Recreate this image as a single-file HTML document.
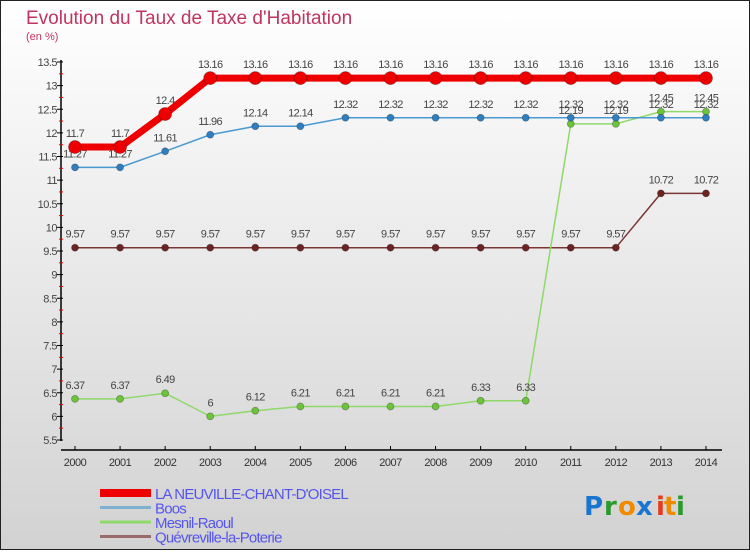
<!DOCTYPE html>
<html><head><meta charset="utf-8">
<style>
html,body{margin:0;padding:0;}
body{width:750px;height:550px;overflow:hidden;font-family:"Liberation Sans",sans-serif;}
</style></head>
<body>
<svg id="chart" width="750" height="550" xmlns="http://www.w3.org/2000/svg">
<defs>
<linearGradient id="bg" x1="0" y1="0" x2="0" y2="1">
<stop offset="0" stop-color="#ffffff"/><stop offset="1" stop-color="#d2d2d2"/>
</linearGradient>
</defs>
<rect x="0.5" y="0.5" width="749" height="549" fill="url(#bg)" stroke="#222" stroke-width="1"/>
<text x="26" y="24" font-size="19" fill="#c0355f">Evolution du Taux de Taxe d'Habitation</text>
<text x="26" y="40" font-size="11" fill="#c0355f">(en %)</text>
<g id="axes"></g>
<g id="series"></g>
<g id="legend"></g>
<g font-size="26" font-weight="bold" font-family="'DejaVu Sans',sans-serif">
<text x="584" y="515" fill="#1a75d1">P</text><text x="604" y="515" fill="#2a9a2a">r</text><text x="618" y="515" fill="#f08a00">o</text><text x="636" y="515" fill="#1a75d1">x</text><text x="656" y="515" fill="#e83a1a">i</text><text x="664" y="515" fill="#f08a00">t</text><text x="676" y="515" fill="#2a9a2a">i</text>
</g>
</svg>
<script>
const years=[2000,2001,2002,2003,2004,2005,2006,2007,2008,2009,2010,2011,2012,2013,2014];
const neuville=[11.7,11.7,12.4,13.16,13.16,13.16,13.16,13.16,13.16,13.16,13.16,13.16,13.16,13.16,13.16];
const boos=[11.27,11.27,11.61,11.96,12.14,12.14,12.32,12.32,12.32,12.32,12.32,12.32,12.32,12.32,12.32];
const mesnil=[6.37,6.37,6.49,6,6.12,6.21,6.21,6.21,6.21,6.33,6.33,12.19,12.19,12.45,12.45];
const quev=[9.57,9.57,9.57,9.57,9.57,9.57,9.57,9.57,9.57,9.57,9.57,9.57,9.57,10.72,10.72];
const yTicks=[5.5,6,6.5,7,7.5,8,8.5,9,9.5,10,10.5,11,11.5,12,12.5,13,13.5];
const seriesNames=["LA NEUVILLE-CHANT-D'OISEL","Boos","Mesnil-Raoul","Quévreville-la-Poterie"];

const NS="http://www.w3.org/2000/svg";
const X=i=>75+i*45.07;
const Y=v=>440-(v-5.5)*47.25;
function mk(tag,attrs,parent,txt){const e=document.createElementNS(NS,tag);for(const k in attrs)e.setAttribute(k,attrs[k]);if(txt!==undefined)e.textContent=txt;parent.appendChild(e);return e;}
const axes=document.getElementById('axes');
let e=mk('line',{x1:61,y1:60,x2:61,y2:441,stroke:'#000','stroke-width':1.5},axes);


e=mk('line',{x1:61,y1:450,x2:722,y2:450,stroke:'#000','stroke-width':1.5},axes);


yTicks.forEach((t,i)=>{
  const y=Y(t);
  mk('line',{x1:57,y1:y,x2:63,y2:y,stroke:'#000'},axes);
  const tx=mk('text',{x:57,y:y+4,'font-size':11,fill:'#444','text-anchor':'end','letter-spacing':'-0.5'},axes,String(t));
  
  
  if(i<yTicks.length-1){const m=Y(t+0.25);mk('line',{x1:59,y1:m,x2:63,y2:m,stroke:'#e00'},axes);}
});
years.forEach((yr,i)=>{
  mk('line',{x1:X(i),y1:446,x2:X(i),y2:450,stroke:'#000'},axes);
  const tx=mk('text',{x:X(i),y:466,'font-size':11,fill:'#333','text-anchor':'middle','letter-spacing':'-0.5'},axes,String(yr));
  
  
});
const ser=document.getElementById('series');
function draw(name,vals,color,width,r,dot){
  const g=mk('g',{},ser);
  
  
  mk('polyline',{points:vals.map((v,i)=>X(i)+','+Y(v)).join(' '),fill:'none',stroke:color,'stroke-width':width,'stroke-linejoin':'round'},g);
  vals.forEach((v,i)=>{
    const c=mk('circle',{cx:X(i),cy:Y(v),r:r,fill:dot,stroke:'rgba(0,0,0,0.3)','stroke-width':0.8},g);
    
    
    const t=mk('text',{x:X(i),y:Y(v)-10,'font-size':11,fill:'#444','text-anchor':'middle','letter-spacing':'-0.6'},g,String(v));
    
    
  });
}
draw('series-quevreville',quev,'#7a3535',1.5,3.5,'#6b2323');
draw('series-mesnil-raoul',mesnil,'#8fd96a',1.5,3.5,'#6cc43a');
draw('series-boos',boos,'#4a9ad0',1.5,3.5,'#2f7fc0');
draw('series-neuville',neuville,'#ee0000',7,6.5,'#ee0000');
const leg=document.getElementById('legend');
const lc=['#ee0000','#7fb0d0','#8fd96a','#9a6a6a'];const lw=[8,3,3,3];
seriesNames.forEach((n,i)=>{
  const y=493+i*14.5;
  const g=mk('g',{},leg);
  
  
  mk('line',{x1:100,y1:y,x2:151,y2:y,stroke:lc[i],'stroke-width':lw[i]},g);
  mk('text',{x:155,y:y+6,'font-size':15,fill:'#5555ee','letter-spacing':'-0.8'},g,n);
});
</script>
</body></html>
